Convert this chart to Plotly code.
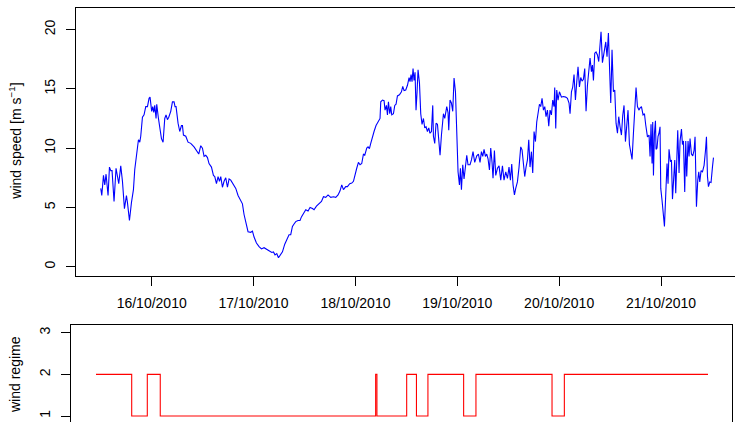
import pandas as pd
import plotly.graph_objects as go

# ---- data ----
start = pd.Timestamp("2010-10-15 12:00")

hours = [
    0.0, 0.24, 0.64, 0.94, 1.25, 1.72, 2.05, 2.36, 2.66, 3.13, 3.6, 3.93, 4.24, 4.71, 5.11, 5.58,
    6.05, 6.29, 6.76, 7.23, 7.7, 8.01, 8.48, 8.88, 9.19, 9.42, 9.82, 10.2, 10.6, 11.0, 11.38, 11.61,
    12.0, 12.25, 12.49, 12.72, 13.03, 13.19, 13.59, 13.97, 14.3, 14.68, 15.08, 15.38, 15.71, 16.02,
    16.49, 16.89, 17.27, 17.5, 17.74, 18.21, 18.61, 19.01, 19.25, 19.48, 20.03, 20.57, 21.2, 21.98,
    22.62, 23.09, 23.56, 23.96, 24.34, 24.74, 25.14, 25.51, 26.08, 26.55, 26.86, 27.26, 27.64, 27.97,
    28.27, 28.67, 29.05, 29.45, 29.85, 30.23, 30.63, 31.26, 31.81, 32.35, 32.98, 33.38, 33.76, 34.16,
    34.7, 35.34, 35.74, 36.12, 36.68, 37.3, 37.86, 38.47, 39.04, 39.65, 40.29, 40.69, 41.06, 41.47,
    41.87, 42.41, 42.81, 43.35, 43.82, 44.36, 44.76, 45.16, 45.54, 45.94, 46.48, 46.95, 47.28, 47.9,
    48.3, 48.84, 49.31, 49.88, 50.25, 50.82, 51.43, 52.0, 52.47, 53.01, 53.55, 54.19, 54.82, 55.37,
    55.91, 56.38, 56.78, 57.18, 57.72, 58.12, 58.66, 59.14, 59.54, 59.84, 60.31, 60.71, 61.09, 61.49,
    61.89, 62.2, 62.67, 62.97, 63.3, 63.61, 64.01, 64.39, 64.86, 65.19, 65.57, 65.8, 65.97, 66.37,
    66.75, 66.98, 67.31, 67.55, 67.78, 68.09, 68.32, 68.56, 68.96, 69.27, 69.57, 69.9, 70.37, 70.84,
    71.15, 71.46, 71.86, 72.26, 72.64, 72.87, 73.11, 73.34, 73.58, 73.81, 74.05, 74.28, 74.52, 74.76,
    75.09, 75.39, 75.7, 76.03, 76.33, 76.64, 76.97, 77.28, 77.58, 77.91, 78.22, 78.38, 78.69, 79.0,
    79.33, 79.63, 79.94, 80.27, 80.74, 81.05, 81.52, 81.82, 81.99, 82.29, 82.62, 82.93, 83.24, 83.57,
    83.87, 84.18, 84.51, 84.74, 84.98, 85.29, 85.59, 85.99, 86.23, 86.53, 87.0, 87.34, 87.71, 88.11,
    88.59, 88.98, 89.36, 89.69, 90.0, 90.31, 90.63, 90.94, 91.25, 91.58, 91.88, 92.19, 92.42, 92.75,
    93.06, 93.46, 93.84, 94.24, 94.64, 95.01, 95.42, 95.82, 96.19, 96.52, 96.83, 97.14, 97.47, 97.77,
    98.17, 98.55, 98.95, 99.26, 99.59, 99.89, 100.2, 100.53, 100.84, 101.14, 101.47, 101.78, 102.09,
    102.42, 102.72, 103.03, 103.36, 103.66, 103.97, 104.3, 104.61, 104.91, 105.24, 105.55, 105.86,
    106.18, 106.49, 106.8, 106.96, 107.2, 107.43, 107.74, 108.07, 108.54, 109.01, 109.55, 109.95,
    110.33, 110.57, 110.9, 111.2, 111.51, 111.84, 112.15, 112.45, 112.78, 113.09, 113.4, 113.72,
    114.03, 114.34, 114.67, 114.97, 115.28, 115.61, 115.84, 116.08, 116.39, 116.69, 117.02, 117.33,
    117.64, 117.87, 118.2, 118.58, 118.98, 119.28, 119.61, 119.92, 120.16, 120.46, 120.79, 121.1,
    121.41, 121.74, 122.04, 122.35, 122.68, 122.98, 123.29, 123.62, 123.93, 124.23, 124.56, 124.87,
    125.18, 125.51, 125.81, 126.12, 126.45, 126.83, 127.0, 127.39, 127.77, 128.1, 128.4, 128.81,
    129.18, 129.42, 129.65, 129.89, 130.05, 130.22, 130.45, 130.69, 130.83, 131.06, 131.3, 131.53,
    131.77, 131.94, 132.24, 132.57, 132.81, 133.11, 133.42, 133.66, 133.89, 134.22, 134.46, 134.7,
    135.0, 135.24, 135.47, 135.71, 135.94, 136.25, 136.49, 136.82, 137.05, 137.29, 137.59, 137.83,
    138.06, 138.37, 138.61, 138.84, 139.17, 139.48, 139.79, 140.02, 140.35, 140.66, 140.9, 141.13,
    141.44, 141.77, 142.15, 142.48, 142.71, 142.95, 143.18, 143.49, 143.79, 144.12, 144.36,
]

wind_speed = [
    6.6, 6.0, 7.7, 6.9, 7.8, 6.0, 8.4, 8.1, 8.1, 5.5, 8.3, 7.6, 7.0, 8.5, 7.2, 4.9,
    6.0, 5.4, 3.9, 5.4, 6.5, 8.2, 9.8, 10.7, 10.5, 11.0, 12.6, 12.8, 13.5, 13.5, 14.2, 14.3,
    13.1, 13.5, 13.0, 13.6, 12.5, 13.7, 12.5, 11.7, 10.8, 10.5, 12.5, 12.8, 12.4, 12.6,
    13.1, 13.9, 13.9, 13.5, 13.5, 12.1, 11.4, 11.9, 11.9, 11.1, 11.0, 10.5, 10.4, 10.1,
    9.8, 9.5, 10.2, 10.0, 9.3, 9.4, 9.2, 8.7, 8.4, 7.7, 7.6, 7.0, 7.6, 7.2,
    7.6, 6.7, 7.2, 7.5, 6.7, 7.4, 7.3, 6.9, 6.6, 6.0, 5.5, 5.3, 4.4, 3.7,
    2.95, 2.9, 3.0, 2.5, 2.0, 1.7, 1.5, 1.6, 1.5, 1.35, 1.2, 1.25, 1.0, 1.1,
    0.76, 1.0, 1.25, 1.9, 2.25, 2.7, 2.7, 3.4, 3.6, 3.8, 3.9, 3.9, 4.2, 4.5,
    4.8, 4.7, 5.0, 4.9, 4.8, 5.1, 5.35, 5.5, 5.9, 5.85, 6.05, 5.85, 5.9, 5.85,
    6.05, 6.4, 6.9, 6.5, 6.75, 6.75, 7.0, 7.05, 7.2, 7.7, 8.3, 8.8, 8.6, 8.7,
    9.5, 9.4, 10.0, 10.1, 9.95, 10.4, 11.0, 11.4, 11.9, 12.1, 12.3, 12.5, 13.9, 14.05,
    14.0, 13.2, 13.6, 12.8, 13.9, 12.9, 13.5, 12.8, 12.9, 13.6, 13.7, 14.4, 14.5, 14.75,
    15.2, 14.85, 14.9, 15.3, 15.95, 15.6, 16.2, 15.6, 16.7, 15.7, 16.4, 13.2, 14.7, 16.6,
    15.5, 12.9, 12.0, 12.5, 11.7, 11.8, 11.4, 11.7, 11.25, 11.4, 13.6, 11.0, 10.4, 12.1,
    12.0, 10.5, 9.4, 11.1, 12.9, 12.5, 13.5, 13.0, 11.5, 14.05, 13.8, 13.1, 15.9, 14.75,
    11.25, 8.0, 6.9, 8.3, 6.5, 8.6, 7.4, 8.65, 9.4, 8.6, 8.6, 9.0, 9.7, 8.8,
    9.35, 9.5, 8.8, 9.7, 9.3, 9.9, 9.3, 9.5, 9.1, 8.15, 10.0, 8.8, 7.45, 9.8,
    7.7, 8.3, 8.5, 7.3, 8.5, 7.3, 8.0, 7.45, 8.4, 7.3, 8.65, 6.9, 6.05, 6.6,
    7.15, 8.4, 10.1, 9.85, 8.55, 7.6, 8.4, 9.0, 10.7, 8.4, 9.7, 7.9, 11.4,
    10.55, 12.2, 12.9, 13.7, 13.5, 14.2, 13.2, 13.5, 12.65, 13.2, 11.85, 13.2,
    12.8, 14.05, 13.5, 15.1, 11.65, 14.9, 14.05, 14.75, 14.3, 14.35, 14.3, 14.2,
    13.8, 12.9, 14.75, 15.15, 16.2, 14.05, 15.6, 16.85, 15.15, 15.95, 15.65, 15.8,
    16.7, 13.1, 15.3, 16.2, 17.6, 16.45, 17.0, 15.7, 18.0, 18.1, 17.85, 17.3,
    18.55, 19.8, 17.2, 18.1, 18.95, 17.7, 19.7, 16.3, 13.8, 18.3, 14.75, 14.9,
    12.1, 11.25, 12.65, 11.8, 11.1, 12.75, 13.6, 10.55, 12.4, 13.2, 10.3, 9.7,
    9.05, 11.3, 13.2, 15.1, 13.5, 13.2, 13.35, 13.5, 12.8, 12.9, 11.95, 10.95,
    11.1, 9.3, 12.0, 8.7, 12.2, 7.7, 11.2, 12.3, 9.9, 10.0, 11.0, 11.25,
    11.8, 6.6, 5.6, 4.5, 3.4, 6.05, 8.7, 7.0, 9.9, 8.85, 9.0, 5.7,
    7.6, 9.0, 6.2, 9.3, 11.5, 7.9, 10.6, 11.6, 10.3, 10.6, 6.3, 10.6,
    7.6, 10.6, 9.3, 10.8, 9.5, 9.35, 9.8, 10.95, 5.05, 7.3, 8.0, 7.15,
    8.1, 8.0, 8.55, 9.8, 10.95, 7.6, 6.75, 7.15, 7.1, 8.4, 9.2,
]

regime_hours = [0.0, 8.4, 12.07, 15.12, 65.8, 66.1, 73.1, 75.4, 78.1, 86.5, 89.4, 107.3, 110.2, 144.0]
regime_values = [2, 1, 2, 1, 2, 1, 2, 1, 2, 1, 2, 1, 2, 2]

day_ticks = ["2010-10-16", "2010-10-17", "2010-10-18", "2010-10-19", "2010-10-20", "2010-10-21"]
day_labels = ["16/10/2010", "17/10/2010", "18/10/2010", "19/10/2010", "20/10/2010", "21/10/2010"]
speed_ticks = [0, 5, 10, 15, 20]
regime_ticks = [1, 2, 3]

# ---- build ----
t_speed = start + pd.to_timedelta(hours, unit="h")
t_regime = start + pd.to_timedelta(regime_hours, unit="h")

W, H = 735, 422
FONT = "Liberation Sans, Arial, Helvetica, sans-serif"

fig = go.Figure()
fig.add_trace(go.Scatter(x=t_speed, y=wind_speed, mode="lines",
                         line=dict(color="#0000FF", width=1.1),
                         xaxis="x", yaxis="y", showlegend=False))
fig.add_trace(go.Scatter(x=t_regime, y=regime_values, mode="lines",
                         line=dict(color="#FF0000", width=1.1, shape="hv"),
                         xaxis="x2", yaxis="y2", showlegend=False))

common_font = dict(family=FONT, size=14, color="#000000")

fig.update_layout(
    width=W, height=H,
    margin=dict(l=0, r=0, t=0, b=0, pad=0),
    paper_bgcolor="white", plot_bgcolor="white",
    font=common_font,
    xaxis=dict(
        domain=[76 / W, 1.0], anchor="y", automargin=False,
        range=["2010-10-15 06:10", "2010-10-21 17:26"],
        tickmode="array", tickvals=day_ticks, ticktext=day_labels,
        ticks="outside", ticklen=9, tickwidth=1, tickcolor="#000000",
        showline=True, linecolor="#000000", linewidth=1, mirror=True,
        showgrid=False, zeroline=False, tickfont=common_font,
        ticklabelstandoff=5,
    ),
    yaxis=dict(
        domain=[(H - 276) / H, (H - 7.5) / H], anchor="x", automargin=False,
        range=[-0.784, 21.855],
        tickmode="array", tickvals=speed_ticks,
        ticks="outside", ticklen=9, tickwidth=1, tickcolor="#000000",
        tickangle=-90, ticklabelstandoff=5,
        showline=True, linecolor="#000000", linewidth=1, mirror=False,
        showgrid=False, zeroline=False, tickfont=common_font,
    ),
    xaxis2=dict(
        domain=[71 / W, 732.3 / W], anchor="y2", side="top", automargin=False,
        range=["2010-10-15 06:07", "2010-10-21 17:43"],
        showticklabels=False, ticks="",
        showline=True, linecolor="#000000", linewidth=1, mirror=False,
        showgrid=False, zeroline=False,
    ),
    yaxis2=dict(
        domain=[0.0, (H - 325) / H], anchor="x2", automargin=False,
        range=[0.856, 3.185],
        tickmode="array", tickvals=regime_ticks,
        ticks="outside", ticklen=9, tickwidth=1, tickcolor="#000000",
        tickangle=-90, ticklabelstandoff=5,
        showline=True, linecolor="#000000", linewidth=1, mirror=True,
        showgrid=False, zeroline=False, tickfont=common_font,
    ),
    annotations=[
        dict(text="wind speed [m s<sup>\u22121</sup>]", xref="paper", yref="paper",
             x=15 / W, y=(H - 141.7) / H, textangle=-90, showarrow=False,
             font=common_font, xanchor="center", yanchor="middle"),
        dict(text="wind regime", xref="paper", yref="paper",
             x=15 / W, y=(H - 375) / H, textangle=-90, showarrow=False,
             font=common_font, xanchor="center", yanchor="middle"),
    ],
)

fig.write_html(
    "out.html",
    config={"displayModeBar": False},
    post_script="document.body.style.margin='0px';document.body.style.overflow='hidden';",
)
